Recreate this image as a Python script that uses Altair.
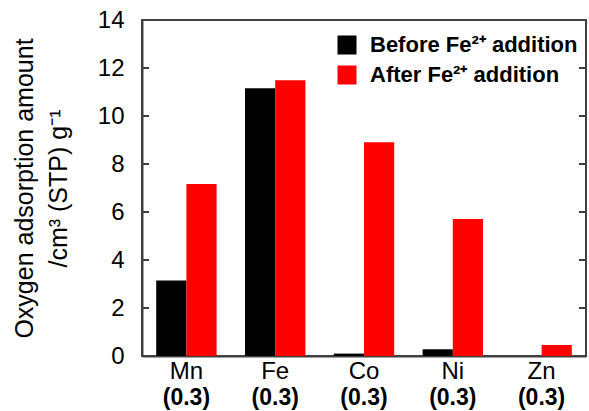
import altair as alt
import pandas as pd

metals = ["Mn", "Fe", "Co", "Ni", "Zn"]
sublabels = ["(0.3)", "(0.3)", "(0.3)", "(0.3)", "(0.3)"]
series = ["Before Fe²⁺ addition", "After Fe²⁺ addition"]
before = [3.15, 11.16, 0.1, 0.28, 0.0]
after = [7.17, 11.49, 8.91, 5.71, 0.46]
y_ticks = [0, 2, 4, 6, 8, 10, 12, 14]

rows = []
for m, b, a in zip(metals, before, after):
    rows.append({"metal": m, "series": series[0], "value": b})
    rows.append({"metal": m, "series": series[1], "value": a})
df = pd.DataFrame(rows)
ticks_df = pd.DataFrame({"value": y_ticks})
lab_df = pd.DataFrame({"metal": metals, "sub": sublabels})

W, H = 444, 336
FONT = "Liberation Sans"

xscale = alt.Scale(domain=metals, paddingInner=0.32, paddingOuter=0.16)
yscale = alt.Scale(domain=[0, 14], nice=False)

xaxis = alt.Axis(title=None, labelAngle=0, ticks=False, labelFontSize=24,
                 labelFont=FONT, labelColor="black", labelPadding=3,
                 domainColor="#404040", domainWidth=2)
yaxis = alt.Axis(values=y_ticks, ticks=False, grid=False, labelFontSize=24,
                 labelFont=FONT, labelColor="black", labelPadding=18,
                 domainColor="#404040", domainWidth=2,
                 title=["Oxygen adsorption amount", "/cm³ (STP) g⁻¹"],
                 titleFont=FONT, titleFontSize=25, titleFontWeight="normal",
                 titleColor="black", titleLineHeight=34, titlePadding=26)

bars = alt.Chart(df).mark_bar().encode(
    x=alt.X("metal:N", scale=xscale, sort=metals, axis=xaxis),
    xOffset=alt.XOffset("series:N", sort=series, scale=alt.Scale(domain=series)),
    y=alt.Y("value:Q", scale=yscale, axis=yaxis),
    color=alt.Color("series:N", sort=series,
                    scale=alt.Scale(domain=series, range=["#000000", "#FF0000"]),
                    legend=alt.Legend(title=None, orient="none", legendX=194, legendY=14,
                                      symbolType="square", symbolSize=361,
                                      symbolStrokeWidth=0, labelFont=FONT,
                                      labelFontSize=22, labelFontWeight="bold",
                                      labelColor="black", labelOffset=12,
                                      rowPadding=8, padding=0, labelLimit=400)),
)

left_ticks = alt.Chart(ticks_df).mark_rule(color="#404040", strokeWidth=2).encode(
    y=alt.Y("value:Q", scale=yscale, axis=yaxis),
    x=alt.value(0), x2=alt.value(7),
)
right_ticks = alt.Chart(ticks_df).mark_rule(color="#404040", strokeWidth=2).encode(
    y=alt.Y("value:Q", scale=yscale, axis=yaxis),
    x=alt.value(W - 7), x2=alt.value(W),
)
sub_text = alt.Chart(lab_df).mark_text(
    font=FONT, fontSize=23, fontWeight="bold", color="black", baseline="middle"
).encode(
    x=alt.X("metal:N", scale=xscale, sort=metals, axis=xaxis),
    y=alt.value(H + 42),
    text="sub:N",
)

chart = alt.layer(bars, left_ticks, right_ticks, sub_text).properties(
    width=W, height=H,
    autosize=alt.AutoSizeParams(type="none"),
    padding={"left": 142, "top": 20, "right": 3, "bottom": 55},
    background="white",
).configure_view(stroke="#404040", strokeWidth=2)

chart.save("out.html", embed_options={"renderer": "svg", "actions": False})
